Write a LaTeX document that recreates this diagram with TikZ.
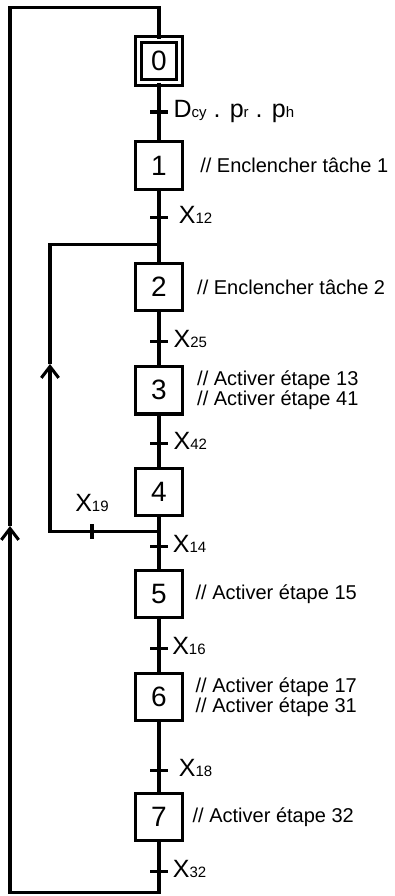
\documentclass[tikz,border=0pt]{standalone}
\usepackage{fontspec}
\setmainfont{Liberation Sans}
\usetikzlibrary{arrows.meta,positioning}

\newcommand\stepfont{\fontsize{21pt}{24pt}\selectfont}
\newcommand\actfont{\fontsize{15pt}{15pt}\selectfont}
\newcommand\recfont{\fontsize{18.75pt}{20pt}\selectfont}
\newcommand\idx[1]{{\fontsize{11.25pt}{12pt}\selectfont #1}}

\begin{document}
\begin{tikzpicture}[
  x=0.75pt, y=-0.75pt,
  wire/.style={line width=2.3pt},
  etape/.style={draw, line width=2.3pt, minimum width=35.5pt, minimum height=35.5pt, inner sep=0pt, outer sep=0pt, font=\stepfont},
  init/.style={etape, double, double distance=2.2pt, minimum width=30.3pt, minimum height=32.5pt},
  tick/.style={minimum width=13.5pt, minimum height=0pt, inner sep=0pt, outer sep=0pt},
  vtick/.style={tick, minimum width=0pt, minimum height=11.25pt},
  rec/.style={inner sep=1pt, text depth=0pt, font=\recfont, yshift=2pt},
  act/.style={inner sep=1pt, align=left, font=\actfont},
  barb/.style={-{Straight Barb[length=8.5pt, width=13pt]}}
]
\useasboundingbox (0,0) rectangle (395,896);

% etapes
\node[init] (e0) at (159,61) {0};
\node[etape, below=44.3pt of e0] (e1) {1};
\node[etape, below=55.6pt of e1] (e2) {2};
\node[etape, below=42.1pt of e2] (e3) {3};
\node[etape, below=40.6pt of e3] (e4) {4};
\node[etape, below=41pt of e4] (e5) {5};
\node[etape, below=41.7pt of e5] (e6) {6};
\node[etape, below=54.5pt of e6] (e7) {7};

% transitions
\node[tick, below=22pt of e0] (t0) {};
\node[tick, below=21pt of e1] (t1) {};
\node[tick, below=23.5pt of e2] (t2) {};
\node[tick, below=22.4pt of e3] (t3) {};
\node[tick, below=23.5pt of e4] (t4) {};
\node[tick, below=23.5pt of e5] (t5) {};
\node[tick, below=37.7pt of e6] (t6) {};
\node[tick, below=23.4pt of e7] (t7) {};

% points de reprise
\coordinate[above=24.2pt of e0] (b0);
\coordinate[above=13.7pt of e2] (j2);
\coordinate[below=12.2pt of e4] (j4);
\coordinate[below=15.75pt of t7] (b7);
\coordinate (up0) at (10,526);
\coordinate (up2) at (50,364);
\node[vtick] (t19) at (j4 -| 92,0) {};

% receptivites
\node[rec, right=3pt of t0] (r0) {D\idx{cy} . p\idx{r} . p\idx{h}};
\node[rec, right=7pt of t1] (r1) {X\idx{12}};
\node[rec, right=3pt of t2] (r2) {X\idx{25}};
\node[rec, right=3pt of t3] (r3) {X\idx{42}};
\node[rec, right=2.5pt of t4] (r4) {X\idx{14}};
\node[rec, right=2pt of t5] (r5) {X\idx{16}};
\node[rec, right=7pt of t6] (r6) {X\idx{18}};
\node[rec, right=2.5pt of t7] (r7) {X\idx{32}};
\node[rec, above=6.4pt of t19] (r19) {X\idx{19}};

% actions
\node[act, right=12pt of e1] (ac1) {// Enclencher tâche 1};
\node[act, right=9.7pt of e2] (ac2) {// Enclencher tâche 2};
\node[act, right=9.7pt of e3] (ac3) {// Activer étape 13\\// Activer étape 41};
\node[act, right=8.5pt of e5] (ac5) {// Activer étape 15};
\node[act, right=8.5pt of e6] (ac6) {// Activer étape 17\\// Activer étape 31};
\node[act, right=6.3pt of e7] (ac7) {// Activer étape 32};

% liaisons
\foreach \a/\b in {0/1,1/2,2/3,3/4,4/5,5/6,6/7}
  \draw[wire] (e\a) -- (e\b);
\foreach \t in {0,...,7}
  \draw[wire] (t\t.west) -- (t\t.east);
\draw[wire] (t19.north) -- (t19.south);

% reprise de sequence
\draw[wire, barb] (j4) -| (up2);
\draw[wire] (up2) |- (j2);
\draw[wire, barb] (e7) -- (b7) -| (up0);
\draw[wire] (up0) |- (b0) -- (e0);
\end{tikzpicture}
\end{document}
